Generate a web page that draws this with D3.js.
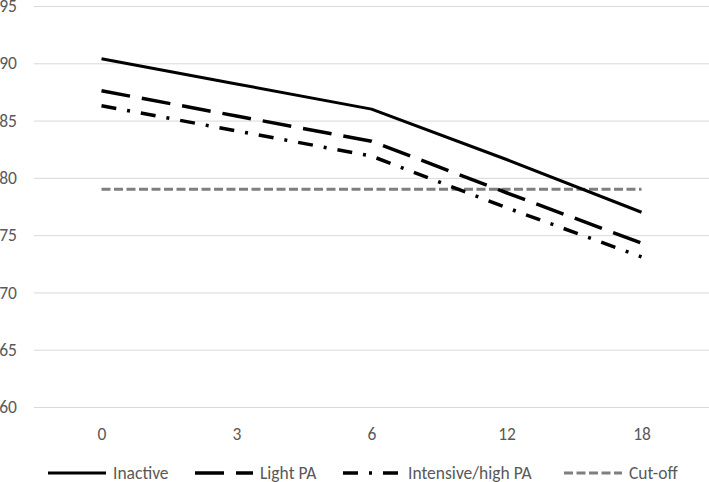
<!DOCTYPE html>
<html>
<head>
<meta charset="utf-8">
<script src="https://cdn.jsdelivr.net/npm/d3@7"></script>
<style>
  body { margin: 0; background: #fff; }
  text { font-family: Carlito, Calibri, "Liberation Sans Narrow", "DejaVu Sans Condensed", sans-serif; fill: #595959; }
</style>
</head>
<body>
<div id="chart"></div>
<script>
// months since baseline
var months = ["0", "3", "6", "12", "18"];

var inactive = [90.4, 88.2, 86.0, 81.6, 77.0];
var lightPA = [87.6, 85.4, 83.2, 78.7, 74.3];
var intensivePA = [86.3, 84.1, 81.9, 77.4, 73.1];
var cutOff = [79, 79, 79, 79, 79];

var yTicks = [60, 65, 70, 75, 80, 85, 90, 95];

var seriesNames = ["Inactive", "Light PA", "Intensive/high PA", "Cut-off"];

var svgWidth = 709;
var svgHeight = 482;

var plot = { left: 34, right: 709, top: 6, bottom: 407 };

var svg = d3.select("#chart")
  .append("svg")
  .attr("width", svgWidth)
  .attr("height", svgHeight);

var xScale = d3.scalePoint()
  .domain(months)
  .range([plot.left, plot.right])
  .padding(0.5);

var yScale = d3.scaleLinear()
  .domain([60, 95])
  .range([plot.bottom, plot.top]);

// gridlines + y labels
var leftAxis = d3.axisLeft(yScale)
  .tickValues(yTicks)
  .tickSize(-(plot.right - plot.left))
  .tickPadding(17);

var yAxis = svg.append("g")
  .attr("transform", `translate(${plot.left}, 0)`)
  .call(leftAxis);

yAxis.select(".domain").remove();
yAxis.selectAll("line").attr("stroke", "#d9d9d9").attr("stroke-width", 1);
yAxis.selectAll("text").attr("font-size", "17.5px").attr("fill", "#595959");

// x labels
var bottomAxis = d3.axisBottom(xScale)
  .tickSize(0)
  .tickPadding(21);

var xAxis = svg.append("g")
  .attr("transform", `translate(0, ${plot.bottom})`)
  .call(bottomAxis);

xAxis.select(".domain").remove();
xAxis.selectAll("text").attr("font-size", "17.5px").attr("fill", "#595959");

var styles = [
  { values: inactive, color: "#000", width: 3, dash: null },
  { values: lightPA, color: "#000", width: 3.5, dash: "29,12" },
  { values: intensivePA, color: "#000", width: 3.5, dash: "15,11,3,11" },
  { values: cutOff, color: "#7f7f7f", width: 3, dash: "9,3.5" }
];

var line = d3.line()
  .x((d, i) => xScale(months[i]))
  .y(d => yScale(d));

// draw cut-off first so the black lines sit on top
styles.slice().reverse().forEach(function (s) {
  svg.append("path")
    .datum(s.values)
    .attr("d", line)
    .attr("fill", "none")
    .attr("stroke", s.color)
    .attr("stroke-width", s.width)
    .attr("stroke-linejoin", "round")
    .attr("stroke-dasharray", s.dash);
});

// legend
var legendX = [48, 195, 343, 564];

var legend = svg.append("g")
  .attr("transform", "translate(0, 473)");

seriesNames.forEach(function (name, i) {
  var s = styles[i];
  legend.append("line")
    .attr("x1", legendX[i])
    .attr("x2", legendX[i] + 58)
    .attr("y1", 0)
    .attr("y2", 0)
    .attr("stroke", s.color)
    .attr("stroke-width", s.width)
    .attr("stroke-dasharray", s.dash);

  legend.append("text")
    .attr("x", legendX[i] + 65)
    .attr("y", 0)
    .attr("dy", "0.35em")
    .attr("font-size", "17.5px")
    .text(name);
});
</script>
</body>
</html>
